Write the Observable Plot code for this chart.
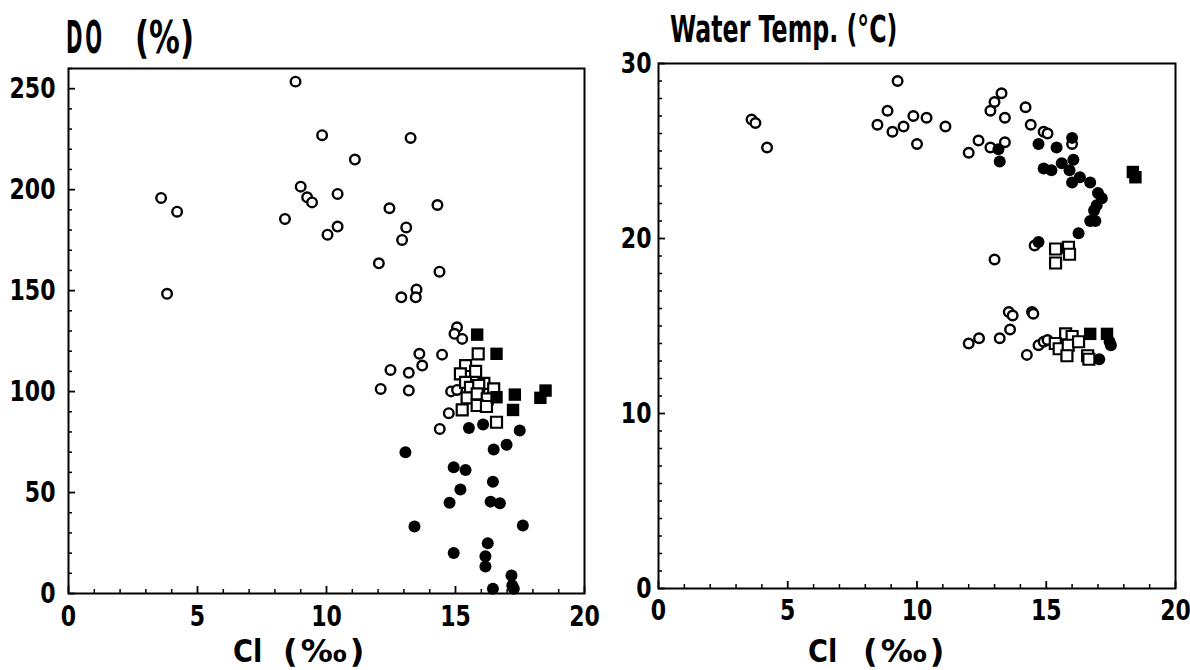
<!DOCTYPE html>
<html><head><meta charset="utf-8">
<script src="https://cdn.jsdelivr.net/npm/d3@7"></script>
<script src="https://cdn.jsdelivr.net/npm/@observablehq/plot@0.6"></script>
<style>
body{margin:0;background:#fff;}
#wrap{position:relative;width:1190px;height:670px;overflow:hidden;font-family:"DejaVu Sans",sans-serif;font-weight:bold;color:#000;background:#fff}
.panel{position:absolute;top:0}
.lbl{position:absolute;white-space:pre;transform-origin:0 0;}
</style></head><body>
<div id="wrap">
  <div class="panel" id="left" style="left:0"></div>
  <div class="panel" id="right" style="left:590px"></div>
  <div class="lbl" style="left:66px;top:16px;font-size:44px;line-height:1;letter-spacing:6px;transform:scaleX(0.45)">DO</div>
  <div class="lbl" style="left:135px;top:16px;font-size:44px;line-height:1;transform:scaleX(0.7)">(%)</div>
  <div class="lbl" style="left:670px;top:11px;font-size:37px;line-height:1;transform:scaleX(0.64)">Water Temp. (°C)</div>
  <div class="lbl" style="left:233px;top:633px;font-size:32px;line-height:1.164;transform:scaleX(0.85)">Cl</div>
  <div class="lbl" style="left:283px;top:633px;font-size:32px;line-height:1.164;letter-spacing:3px">(‰)</div>
  <div class="lbl" style="left:808px;top:633px;font-size:32px;line-height:1.164;transform:scaleX(0.85)">Cl</div>
  <div class="lbl" style="left:863px;top:633px;font-size:32px;line-height:1.164;letter-spacing:3px">(‰)</div>
</div>
<script>
// ---- axis ticks ----
const clTicks = [0, 5, 10, 15, 20];
const doTicks = [0, 50, 100, 150, 200, 250];
const tempTicks = [0, 10, 20, 30];

// ---- DO (%) vs Cl (‰) ----
const doOpenCircles = [
  [8.8,253.5],[9.83,227],[13.26,225.6],[11.1,214.9],[9.0,201.5],[9.25,196.2],[9.44,193.7],
  [10.43,197.9],[3.59,195.9],[4.21,189.1],[8.39,185.5],[12.44,190.8],[14.3,192.4],[10.43,181.7],
  [10.04,177.7],[13.09,181.3],[12.93,175.1],[12.03,163.5],[14.38,159.4],[3.82,148.4],[12.9,146.7],
  [13.49,150.5],[13.46,146.7],
  [15.06,131.8],[14.96,128.6],[15.26,126.1],[13.6,118.7],[13.71,112.9],[14.48,118.3],[12.48,110.7],
  [13.19,109.3],[12.1,101.3],[13.19,100.5],[14.83,100.1],[15.06,100.8],[14.74,89.3],[14.39,81.5]
];
const doFilledCircles = [
  [15.52,82],[16.07,83.7],[17.49,80.7],[16.48,71.3],[16.98,73.7],[13.06,70],[14.93,62.5],
  [15.39,61.2],[16.45,55.4],[15.19,51.5],[14.77,44.9],[16.36,45.5],[16.72,44.7],[13.41,33.2],
  [17.61,33.7],[14.93,20.1],[16.25,24.9],[16.16,18.5],[16.16,13.4],[17.17,8.9],[16.45,2.3],
  [17.2,4],[17.26,2.3]
];
const doOpenSquares = [
  [15.88,118.7],[15.39,112.9],[15.78,110],[15.19,108.8],[15.39,104.6],[16.1,104.1],[16.48,101.3],
  [15.58,102.1],[15.9,103],[15.45,96.9],[15.84,98.9],[16.23,96.4],[15.26,90.9],[15.84,93.1],
  [16.2,92.6],[16.59,84.8]
];
const doFilledSquares = [
  [15.84,128.2],[16.59,118.7],[16.59,97.2],[17.3,98.5],[17.23,90.9],[18.49,100.5],[18.29,96.9]
];

// ---- Water temperature (°C) vs Cl (‰) ----
const tOpenCircles = [
  [3.6,26.8],[3.75,26.6],[4.2,25.2],
  [8.47,26.5],[8.86,27.3],[9.05,26.1],[9.25,29.0],[9.48,26.4],[9.86,27.0],[10.37,26.9],[10.0,25.4],
  [11.1,26.4],[12.0,24.9],[12.38,25.6],
  [12.84,27.3],[13.0,27.8],[13.27,28.3],[13.4,26.9],[12.84,25.2],[13.4,25.5],
  [14.2,27.5],[14.4,26.5],[14.9,26.1],[15.05,26.0],[16.0,25.4],
  [13.0,18.8],[14.55,19.6],
  [13.55,15.8],[13.7,15.6],[14.45,15.8],[14.5,15.7],
  [13.6,14.8],[13.2,14.3],[12.4,14.3],[12.0,14.0],[14.25,13.35],[14.7,13.9],[14.9,14.1],[15.05,14.2]
];
const tFilledCircles = [
  [13.15,25.1],[13.2,24.4],[14.7,25.4],[15.4,25.2],[16.0,25.75],[14.9,24.0],[15.2,23.9],[15.6,24.3],
  [16.05,24.5],[15.9,23.9],[16.0,23.2],[16.3,23.5],[16.7,23.2],[17.0,22.6],[17.15,22.3],[16.95,21.9],
  [16.85,21.6],[16.7,21.0],[16.9,21.0],[16.25,20.3],[14.7,19.8],
  [17.45,14.1],[17.5,13.9],[17.05,13.1]
];
const tOpenSquares = [
  [15.36,19.4],[15.36,18.6],[15.86,19.5],[15.9,19.1],
  [15.75,14.55],[16.0,14.4],[15.35,14.0],[15.5,13.7],[15.85,13.9],[16.25,14.1],[15.8,13.3],
  [16.6,13.3],[16.65,13.1]
];
const tFilledSquares = [[18.35,23.8],[18.45,23.5],[16.7,14.55],[17.35,14.55]];

const FONT = '"DejaVu Sans",sans-serif';

function panel(o) {
  const xMinor = d3.range(0, 21, 1).filter(v => v % 5 !== 0);
  const yMinor = d3.range(o.yDomain[0], o.yDomain[1] + 1e-9, o.yStep).filter(v => !o.yTicks.includes(v));
  const pos = {x: d => d[0], y: d => d[1]};
  const blank = () => "";
  const svg = Plot.plot({
    width: 600, height: 670,
    marginLeft: o.ml, marginRight: o.mr, marginTop: o.mt, marginBottom: o.mb,
    x: {domain: [0, 20]},
    y: {domain: o.yDomain},
    style: {background: "transparent", fontFamily: FONT, fontWeight: "bold", fontSize: "29px", color: "#000", overflow: "visible"},
    marks: [
      Plot.frame({stroke: "#000", strokeWidth: 2}),
      Plot.axisX(xMinor, {tickSize: -4, tickFormat: blank, label: null, strokeWidth: 1.5}),
      Plot.axisX(clTicks, {tickSize: -7, tickFormat: blank, label: null, strokeWidth: 1.8}),
      Plot.axisX(clTicks, {tickSize: 0, tickPadding: o.xPad, label: null}),
      Plot.axisY(yMinor, {tickSize: -4, tickFormat: blank, label: null, strokeWidth: 1.5}),
      Plot.axisY(o.yTicks, {tickSize: -7, tickFormat: blank, label: null, strokeWidth: 1.8}),
      Plot.axisY(o.yTicks, {tickSize: 0, tickPadding: o.yPad, label: null}),
      Plot.dot(o.openCircles, {...pos, r: 4.8, stroke: "#000", strokeWidth: 2.4, fill: "white"}),
      Plot.dot(o.filledCircles, {...pos, r: 6, fill: "#000", stroke: "none"}),
      Plot.dot(o.openSquares, {...pos, symbol: "square", r: 6.2, stroke: "#000", strokeWidth: 2.2, fill: "white"}),
      Plot.dot(o.filledSquares, {...pos, symbol: "square", r: 7, fill: "#000", stroke: "none"})
    ]
  });
  // condense the tick-label glyphs horizontally around each label's own anchor
  svg.querySelectorAll("text").forEach(t => {
    if (!t.textContent) return;
    const x = +(t.getAttribute("x") || 0);
    const tr = t.getAttribute("transform") || "";
    t.setAttribute("transform", `${tr} translate(${x},0) scale(0.76,1) translate(${-x},0)`);
  });
  return svg;
}

document.getElementById("left").append(panel({
  ml: 68, mr: 16, mt: 68, mb: 77, xPad: 12, yPad: 13,
  yDomain: [0, 260], yTicks: doTicks, yStep: 10,
  openCircles: doOpenCircles, filledCircles: doFilledCircles,
  openSquares: doOpenSquares, filledSquares: doFilledSquares
}));
document.getElementById("right").append(panel({
  ml: 68, mr: 15, mt: 63, mb: 82, xPad: 11, yPad: 7,
  yDomain: [0, 30], yTicks: tempTicks, yStep: 1,
  openCircles: tOpenCircles, filledCircles: tFilledCircles,
  openSquares: tOpenSquares, filledSquares: tFilledSquares
}));
</script>
</body></html>
